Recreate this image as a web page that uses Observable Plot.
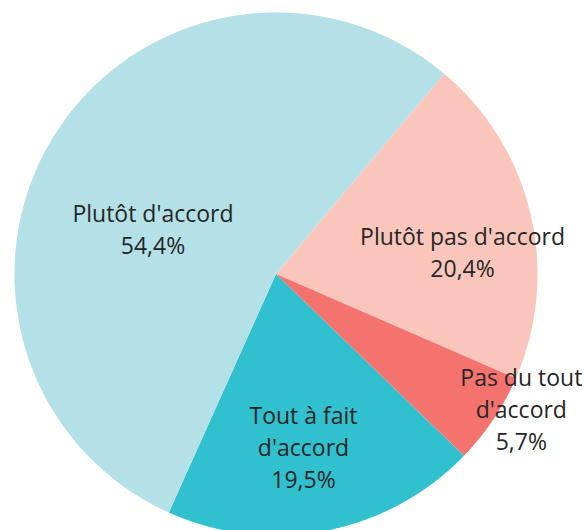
<!DOCTYPE html>
<html>
<head>
<meta charset="utf-8">
<script src="https://cdn.jsdelivr.net/npm/d3@7"></script>
<script src="https://cdn.jsdelivr.net/npm/@observablehq/plot@0.6"></script>
<style>
  html, body { margin: 0; padding: 0; background: #fff; }
  #chart svg { display: block; }
</style>
</head>
<body>
<div id="chart"></div>
<script>
// Data
const categories = ["Tout à fait d'accord", "Plutôt d'accord", "Plutôt pas d'accord", "Pas du tout d'accord"];
const labelLines = ["Tout à fait\nd'accord", "Plutôt d'accord", "Plutôt pas d'accord", "Pas du tout\nd'accord"];
const values = [19.5, 54.4, 20.4, 5.7];
const colors = ["#31C0CE", "#B4E0E7", "#FAC6BC", "#F4736E"];
// label placement (fraction of radius, angle shift in degrees from slice mid-angle)
const labelRadius = [0.672, 0.50, 0.718, 1.072];
const labelShift = [1.9, -12.3, 6.7, -4.8];

const startDeg = 134;
const W = 586, H = 530;
const cx = 275.5, cy = 273.5, R = 261.5;

const pie = d3.pie().sort(null).value(d => d)
  .startAngle(startDeg * Math.PI / 180)
  .endAngle(startDeg * Math.PI / 180 + 2 * Math.PI);
const arcs = pie(values);

// polygon points for each slice (unit radius)
const pts = [];
arcs.forEach((a, i) => {
  const n = Math.max(4, Math.ceil((a.endAngle - a.startAngle) / 0.005));
  pts.push({k: i, x: 0, y: 0});
  for (let j = 0; j <= n; j++) {
    const t = a.startAngle + (a.endAngle - a.startAngle) * j / n;
    pts.push({k: i, x: Math.sin(t), y: Math.cos(t)});
  }
  pts.push({k: i, x: 0, y: 0});
});

const labels = arcs.map((a, i) => {
  const mid = (a.startAngle + a.endAngle) / 2 + labelShift[i] * Math.PI / 180;
  const r = labelRadius[i];
  const pct = values[i].toFixed(1).replace(".", ",") + "%";
  return {x: r * Math.sin(mid), y: r * Math.cos(mid), text: labelLines[i] + "\n" + pct};
});

const chart = Plot.plot({
  width: W,
  height: H,
  margin: 0,
  x: {domain: [-cx / R, (W - cx) / R], axis: null},
  y: {domain: [-(H - cy) / R, cy / R], axis: null},
  style: {background: "#fff"},
  marks: [
    Plot.line(pts, {x: "x", y: "y", z: "k", fill: d => colors[d.k], stroke: "none", curve: "linear"}),
    Plot.text(labels, {x: "x", y: "y", text: "text", fontSize: 23, lineHeight: 1.4, dy: -2,
      fill: "#262626", fontFamily: "'Open Sans', sans-serif", textAnchor: "middle"})
  ]
});
document.getElementById("chart").appendChild(chart);
</script>
</body>
</html>
